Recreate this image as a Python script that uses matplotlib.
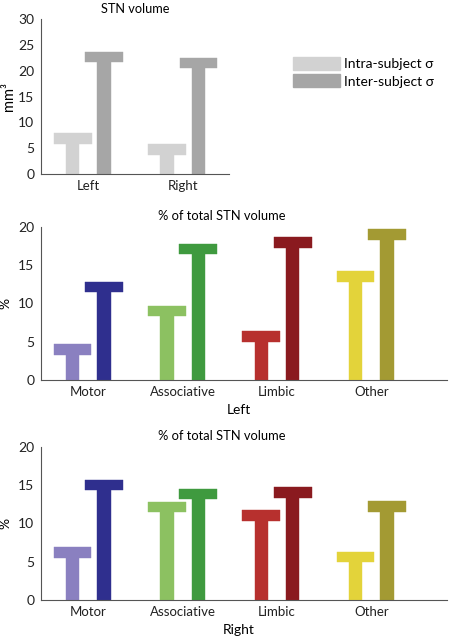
import matplotlib
matplotlib.use("Agg")
import matplotlib.pyplot as plt
import matplotlib.patches as mpatches
import numpy as np

plt.rcParams["font.family"] = ["Lato", "DejaVu Sans"]

# ── data: top of each T (cap top) ─────────────────────────────────────────
vol_sides = ["Left", "Right"]
vol_intra = [7.9, 5.8]
vol_inter = [23.7, 22.5]

regions = ["Motor", "Associative", "Limbic", "Other"]
left_intra = [4.65, 9.7, 6.35, 14.2]
left_inter = [12.8, 17.8, 18.6, 19.65]
right_intra = [6.9, 12.8, 11.7, 6.3]
right_inter = [15.7, 14.5, 14.7, 12.9]

# ── styles ────────────────────────────────────────────────────────────────
GREY_INTRA, GREY_INTER = "#d2d2d2", "#a6a6a6"
REG_INTRA = ["#8a80c0", "#8cc161", "#b7302e", "#e3d33a"]
REG_INTER = ["#2f2f8e", "#3f9a3f", "#8a1a1f", "#a39a33"]
STEM_W, CAP_W, OFFSET = 0.14, 0.40, 1 / 6
CAP_PX = 10.5
AX_COLOR = "#555555"

fig = plt.figure(figsize=(4.52, 6.38), dpi=100)
W, H = 452, 638

def add_axes(x0, y_top, x1, y_bot):
    return fig.add_axes([x0 / W, 1 - y_bot / H, (x1 - x0) / W, (y_bot - y_top) / H])

def style(ax, ymax, step):
    ax.set_ylim(0, ymax)
    ax.set_yticks(np.arange(0, ymax + 0.1, step))
    for s in ["top", "right"]:
        ax.spines[s].set_visible(False)
    for s in ["left", "bottom"]:
        ax.spines[s].set_color(AX_COLOR)
        ax.spines[s].set_linewidth(0.8)
    ax.tick_params(length=0, colors="#222222")
    ax.tick_params(axis="y", labelsize=10, pad=4.5)
    ax.tick_params(axis="x", labelsize=9.5, pad=4)

def draw_T(ax, xs, tops, colors, ymax, ax_h_px):
    cap = CAP_PX * ymax / ax_h_px
    for x, top, c in zip(xs, tops, colors):
        ax.bar(x, top - cap, width=STEM_W, bottom=0, color=c, edgecolor=c,
               linewidth=0.3)
        ax.bar(x, cap, width=CAP_W, bottom=top - cap, color=c, edgecolor=c,
               linewidth=0.3)

# ── top panel: STN volume ─────────────────────────────────────────────────
ax1 = add_axes(40.7, 19, 229, 174)
xs = np.arange(len(vol_sides))
draw_T(ax1, xs - OFFSET, vol_intra, [GREY_INTRA] * 2, 30, 155)
draw_T(ax1, xs + OFFSET, vol_inter, [GREY_INTER] * 2, 30, 155)
ax1.set_xlim(-0.505, 1.49)
style(ax1, 30, 5)
ax1.set_xticks(xs)
ax1.set_xticklabels(vol_sides)
ax1.set_ylabel("mm³", fontsize=10.5)
ax1.yaxis.set_label_coords(-0.13, 0.5)
ax1.set_title("STN volume", fontsize=9.2, pad=4)

handles = [mpatches.Patch(color=GREY_INTRA, label="Intra-subject σ"),
           mpatches.Patch(color=GREY_INTER, label="Inter-subject σ")]
fig.legend(handles=handles, loc="upper left", bbox_to_anchor=(293 / W, 1 - 57 / H),
           frameon=False, fontsize=10, handlelength=3.4, handleheight=1.05,
           handletextpad=0.3, labelspacing=0.3, borderpad=0, borderaxespad=0)

# ── middle / bottom panels: % of total STN volume ─────────────────────────
panels = [(226.7, 380, left_intra, left_inter, "Left"),
          (446.7, 600, right_intra, right_inter, "Right")]
for y_top, y_bot, intra, inter, side in panels:
    ax = add_axes(40.7, y_top, 446.7, y_bot)
    xs = np.arange(len(regions))
    h_px = y_bot - y_top
    draw_T(ax, xs - OFFSET, intra, REG_INTRA, 20, h_px)
    draw_T(ax, xs + OFFSET, inter, REG_INTER, 20, h_px)
    ax.set_xlim(-0.505, 3.8)
    style(ax, 20, 5)
    ax.set_xticks(xs)
    ax.set_xticklabels(regions)
    ax.set_ylabel("%", fontsize=10)
    ax.yaxis.set_label_coords(-0.072, 0.5)
    ax.set_xlabel(side, fontsize=10)
    ax.xaxis.set_label_coords(0.488, -0.155)
    ax.set_title("% of total STN volume", fontsize=9.3, pad=5, x=0.447)

fig.savefig("out.png", dpi=100)
